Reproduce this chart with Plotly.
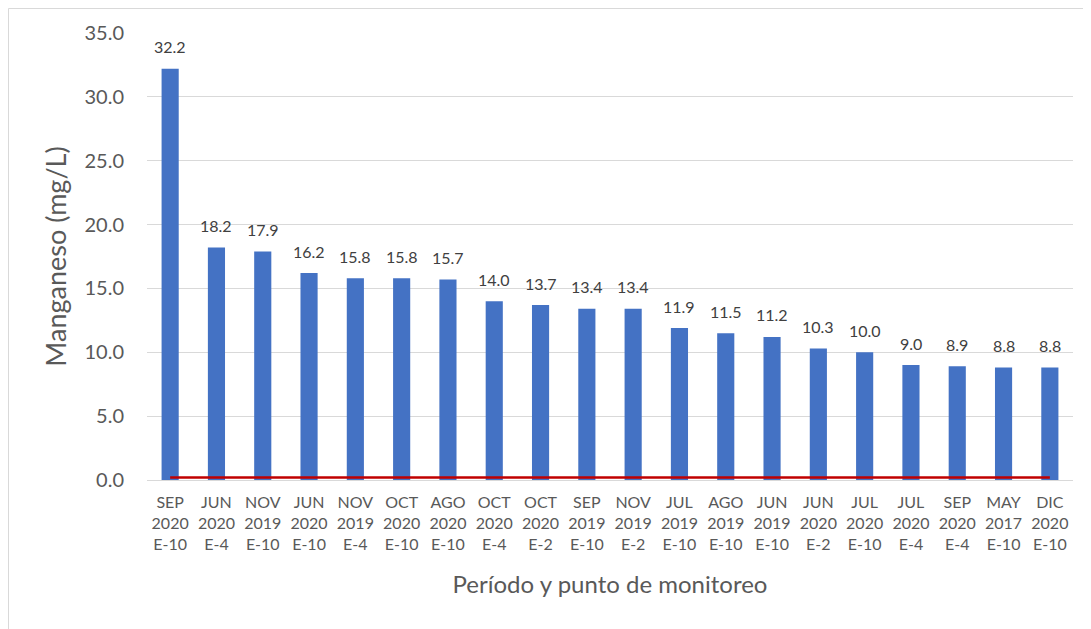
import plotly.graph_objects as go

categories = [
    "SEP<br>2020<br>E-10", "JUN<br>2020<br>E-4", "NOV<br>2019<br>E-10", "JUN<br>2020<br>E-10",
    "NOV<br>2019<br>E-4", "OCT<br>2020<br>E-10", "AGO<br>2020<br>E-10", "OCT<br>2020<br>E-4",
    "OCT<br>2020<br>E-2", "SEP<br>2019<br>E-10", "NOV<br>2019<br>E-2", "JUL<br>2019<br>E-10",
    "AGO<br>2019<br>E-10", "JUN<br>2019<br>E-10", "JUN<br>2020<br>E-2", "JUL<br>2020<br>E-10",
    "JUL<br>2020<br>E-4", "SEP<br>2020<br>E-4", "MAY<br>2017<br>E-10", "DIC<br>2020<br>E-10",
]
manganeso = [32.2, 18.2, 17.9, 16.2, 15.8, 15.8, 15.7, 14.0, 13.7, 13.4, 13.4,
             11.9, 11.5, 11.2, 10.3, 10.0, 9.0, 8.9, 8.8, 8.8]
limite = [0.2] * len(categories)

x_idx = list(range(len(categories)))
FONT = "Lato, 'Open Sans', sans-serif"

# figure geometry (page has an 8px body margin)
W, H = 1083, 621
L, R, T, B = 139, 18, 25, 149
PW, PH = W - L - R, H - T - B

fig = go.Figure()
fig.add_trace(go.Bar(
    x=x_idx, y=manganeso, marker_color="#4472C4",
    marker_line_width=0, width=0.37, showlegend=False, hoverinfo="y",
))
fig.add_trace(go.Scatter(
    x=x_idx, y=limite, mode="lines",
    line=dict(color="#C00000", width=2.5), showlegend=False,
))

for i, v in zip(x_idx, manganeso):
    fig.add_annotation(
        x=i, y=v, text=f"{v:.1f}", showarrow=False,
        yanchor="middle", yshift=22,
        font=dict(family=FONT, size=16, color="#404040"),
    )

fig.update_layout(
    width=W, height=H,
    margin=dict(l=L, r=R, t=T, b=B),
    plot_bgcolor="white", paper_bgcolor="white",
    bargap=0.63,
    font=dict(family=FONT, color="#595959"),
    xaxis=dict(
        tickmode="array", tickvals=x_idx, ticktext=categories,
        range=[-0.5, len(categories) - 0.5],
        tickfont=dict(size=16, color="#595959"),
        showgrid=False, showline=True, linecolor="#D9D9D9", linewidth=1,
        ticks="", ticklabelstandoff=8,
        title=dict(text="Período y punto de monitoreo",
                   font=dict(size=24, color="#595959"), standoff=24),
    ),
    yaxis=dict(
        range=[0, 35], tickvals=[0, 5, 10, 15, 20, 25, 30, 35],
        ticktext=["0.0", "5.0", "10.0", "15.0", "20.0", "25.0", "30.0", "35.0"],
        tickfont=dict(size=20, color="#595959"),
        showgrid=True, gridcolor="#D9D9D9", gridwidth=1,
        zeroline=False, showline=False, ticks="", ticklabelstandoff=22,
        title=dict(text="Manganeso (mg/L)",
                   font=dict(size=27, color="#595959"), standoff=10),
    ),
    shapes=[dict(
        type="rect", xref="paper", yref="paper",
        x0=(0.5 - L) / PW, x1=(1100 - L) / PW,
        y0=(T + PH - 700) / PH, y1=(T + PH - 0.5) / PH,
        line=dict(color="#D9D9D9", width=1), fillcolor="rgba(0,0,0,0)",
        layer="below",
    )],
)

fig.write_html("out.html")
